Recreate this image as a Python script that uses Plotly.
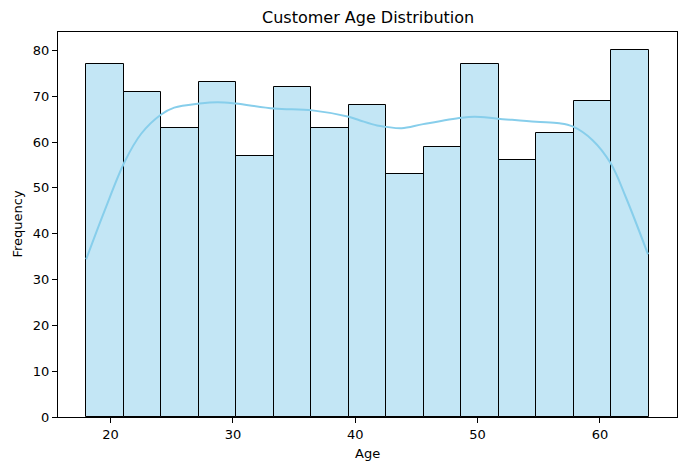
import plotly.graph_objects as go

# Histogram data (15 bins from 18 to 64)
bin_start = 18
bin_end = 64
counts = [77, 71, 63, 73, 57, 72, 63, 68, 53, 59, 77, 56, 62, 69, 80]

# KDE curve
kde_age = [18.0, 19.52, 21.15, 22.5, 24.13, 25.2, 27.26, 28.75, 30.24, 33.37, 36.49, 39.47,
           40.39, 41.78, 42.57, 43.79, 45.55, 48.68, 49.76, 51.66, 54.78, 56.68, 57.77,
           59.4, 60.89, 62.11, 63.93]
kde_freq = [34.4, 45.1, 55.7, 61.8, 66.0, 67.5, 68.4, 68.7, 68.4, 67.3, 66.9, 65.5,
            64.7, 63.6, 63.3, 63.0, 63.9, 65.3, 65.5, 65.1, 64.4, 64.1, 63.4,
            60.4, 55.3, 48.0, 35.5]

x_ticks = [20, 30, 40, 50, 60]
y_ticks = [0, 10, 20, 30, 40, 50, 60, 70, 80]

n = len(counts)
width = (bin_end - bin_start) / n
centers = [bin_start + width * (i + 0.5) for i in range(n)]

font = "DejaVu Sans, sans-serif"
# page body has an 8px margin, so the figure is placed at (8, 8)
W, H = 678, 462
L, R, T, B = 50, 9, 24, 53

fig = go.Figure()
fig.add_trace(go.Bar(
    x=centers, y=counts, width=[width] * n,
    marker=dict(color="rgba(135,206,235,0.5)", line=dict(color="black", width=1)),
    hoverinfo="x+y", showlegend=False,
))
fig.add_trace(go.Scatter(
    x=kde_age, y=kde_freq, mode="lines",
    line=dict(color="skyblue", width=2, shape="spline"),
    showlegend=False,
))

rng = bin_end - bin_start
fig.update_layout(
    width=W, height=H,
    margin=dict(l=L, r=R, t=T, b=B),
    paper_bgcolor="white", plot_bgcolor="white",
    font=dict(family=font, size=13, color="black"),
    bargap=0,
    xaxis=dict(range=[bin_start - 0.05 * rng, bin_end + 0.05 * rng],
               tickvals=x_ticks, ticks="outside", ticklen=5, tickcolor="black",
               showline=True, mirror=True, linecolor="black", linewidth=1,
               showgrid=False, zeroline=False, automargin=False,
               tickfont=dict(size=13)),
    yaxis=dict(range=[0, 84], tickvals=y_ticks, ticks="outside", ticklen=5,
               tickcolor="black",
               showline=True, mirror=True, linecolor="black", linewidth=1,
               showgrid=False, zeroline=False, automargin=False,
               tickfont=dict(size=13)),
    annotations=[
        dict(text="Customer Age Distribution", xref="paper", yref="paper",
             x=0.5, y=1 + 14 / (H - T - B), xanchor="center", yanchor="middle",
             showarrow=False, font=dict(size=16)),
        dict(text="Age", xref="paper", yref="paper",
             x=0.5, y=-36 / (H - T - B), xanchor="center", yanchor="middle",
             showarrow=False, font=dict(size=13)),
        dict(text="Frequency", xref="paper", yref="paper", textangle=-90,
             x=-41 / (W - L - R), y=0.5, xanchor="center", yanchor="middle",
             showarrow=False, font=dict(size=13)),
    ],
)

fig.write_html("out.html")
